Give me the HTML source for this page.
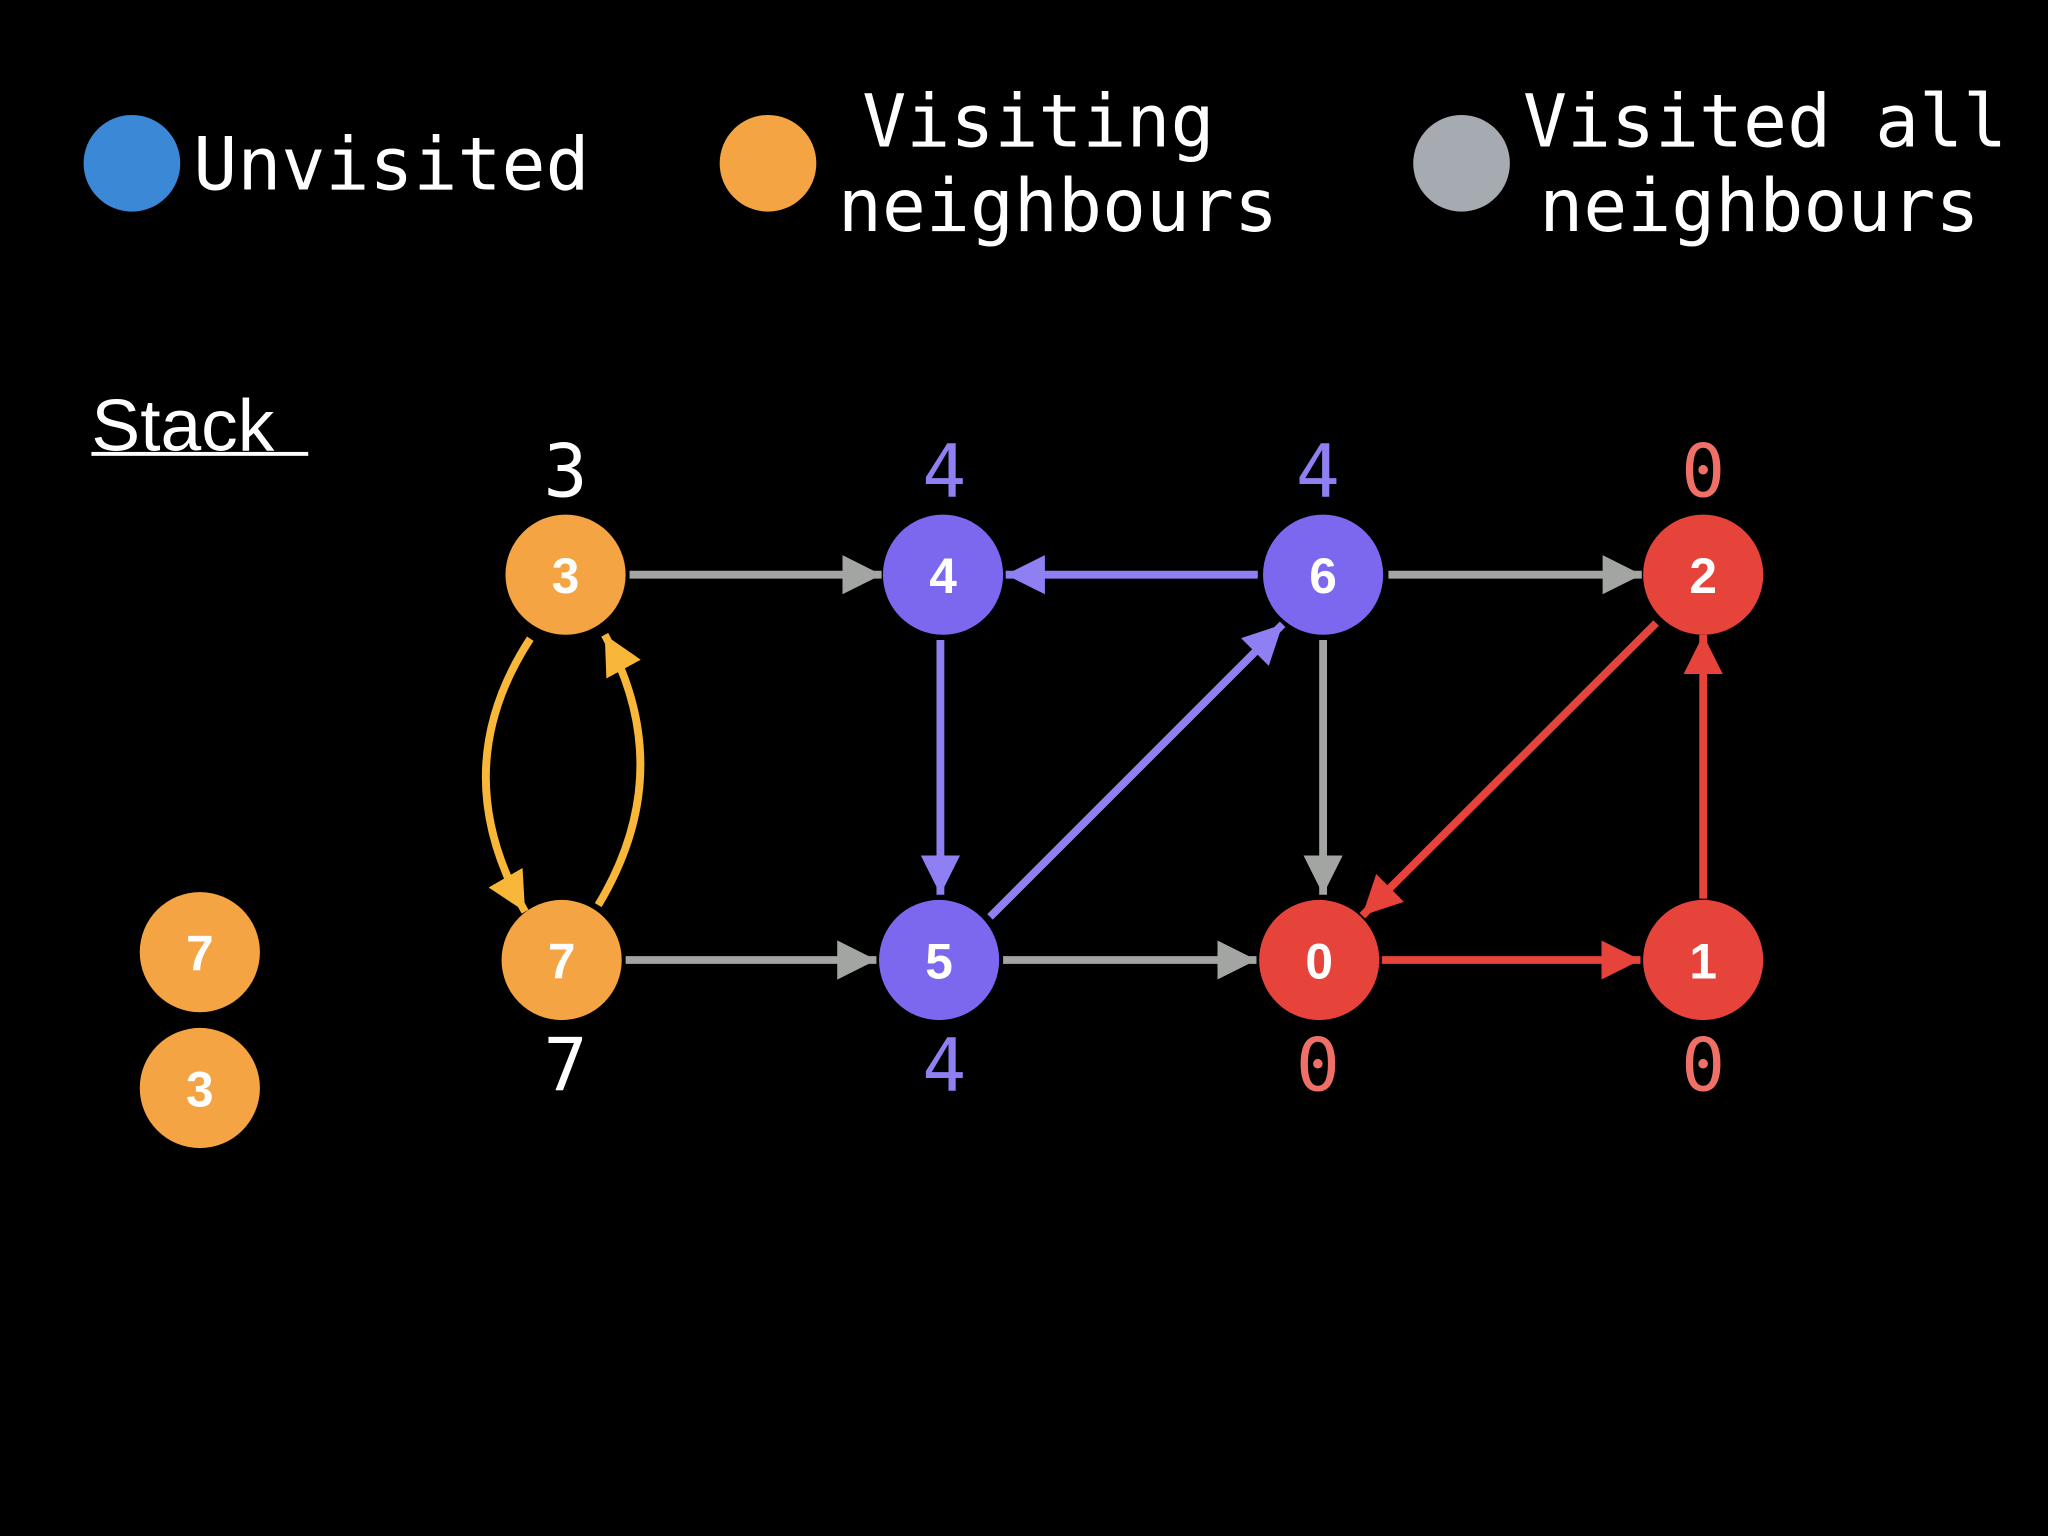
<!DOCTYPE html>
<html><head><meta charset="utf-8"><style>
html,body{margin:0;padding:0;background:#000;}
svg{display:block;}
</style></head><body>
<svg width="2048" height="1536" viewBox="0 0 1568 1176" xmlns="http://www.w3.org/2000/svg">
<defs>
<marker id="ag" markerUnits="userSpaceOnUse" markerWidth="32" markerHeight="32" refX="30" refY="15" orient="auto"><path d="M0,0 L30,15 L0,30 Z" fill="#a3a5a3"/></marker>
<marker id="ap" markerUnits="userSpaceOnUse" markerWidth="32" markerHeight="32" refX="30" refY="15" orient="auto"><path d="M0,0 L30,15 L0,30 Z" fill="#8e80f2"/></marker>
<marker id="ar" markerUnits="userSpaceOnUse" markerWidth="32" markerHeight="32" refX="30" refY="15" orient="auto"><path d="M0,0 L30,15 L0,30 Z" fill="#e6433a"/></marker>
<marker id="ay" markerUnits="userSpaceOnUse" markerWidth="32" markerHeight="32" refX="30" refY="15" orient="auto"><path d="M0,0 L30,15 L0,30 Z" fill="#f8b738"/></marker>
</defs>
<rect width="1568" height="1176" fill="#000"/>
<!-- legend -->
<circle cx="101" cy="125" r="37" fill="#3b88d6"/>
<circle cx="588" cy="125" r="37" fill="#f5a443"/>
<circle cx="1119" cy="125" r="37" fill="#a6aab1"/>
<g font-family="'DejaVu Sans Mono','Liberation Mono',monospace" font-size="56" fill="#fff">
<text x="148" y="145">Unvisited</text>
<text x="795" y="112" text-anchor="middle">Visiting</text>
<text x="810" y="177" text-anchor="middle">neighbours</text>
<text x="1166" y="112">Visited all</text>
<text x="1347" y="177" text-anchor="middle">neighbours</text>
</g>
<text x="70" y="345" font-family="'Liberation Sans',sans-serif" font-size="56" fill="#fff">Stack</text>
<rect x="70" y="346" width="166" height="3" fill="#fff"/>
<!-- edges -->
<g stroke-width="6" fill="none">
<line x1="482" y1="440" x2="675" y2="440" stroke="#a3a5a3" marker-end="url(#ag)"/>
<line x1="1063" y1="440" x2="1257" y2="440" stroke="#a3a5a3" marker-end="url(#ag)"/>
<line x1="479" y1="735" x2="671" y2="735" stroke="#a3a5a3" marker-end="url(#ag)"/>
<line x1="768" y1="735" x2="962" y2="735" stroke="#a3a5a3" marker-end="url(#ag)"/>
<line x1="1013" y1="490" x2="1013" y2="685" stroke="#a3a5a3" marker-end="url(#ag)"/>
<line x1="963" y1="440" x2="770" y2="440" stroke="#8e80f2" marker-end="url(#ap)"/>
<line x1="720" y1="490" x2="720" y2="685" stroke="#8e80f2" marker-end="url(#ap)"/>
<line x1="758" y1="702" x2="982" y2="478" stroke="#8e80f2" marker-end="url(#ap)"/>
<line x1="1268" y1="477" x2="1043" y2="701" stroke="#e6433a" marker-end="url(#ar)"/>
<line x1="1058" y1="735" x2="1256" y2="735" stroke="#e6433a" marker-end="url(#ar)"/>
<line x1="1304" y1="688" x2="1304" y2="486" stroke="#e6433a" marker-end="url(#ar)"/>
<path d="M406,489 Q340,590 402,698" stroke="#f8b738" marker-end="url(#ay)"/>
<path d="M458,693 Q520,590 463,486" stroke="#f8b738" marker-end="url(#ay)"/>
</g>
<!-- nodes -->
<g>
<circle cx="433" cy="440" r="46" fill="#f5a443"/>
<circle cx="722" cy="440" r="46" fill="#7b68ee"/>
<circle cx="1013" cy="440" r="46" fill="#7b68ee"/>
<circle cx="1304" cy="440" r="46" fill="#e6433a"/>
<circle cx="430" cy="735" r="46" fill="#f5a443"/>
<circle cx="719" cy="735" r="46" fill="#7b68ee"/>
<circle cx="1010" cy="735" r="46" fill="#e6433a"/>
<circle cx="1304" cy="735" r="46" fill="#e6433a"/>
<circle cx="153" cy="729" r="46" fill="#f5a443"/>
<circle cx="153" cy="833" r="46" fill="#f5a443"/>
</g>
<g font-family="'Liberation Sans',sans-serif" font-weight="bold" font-size="38" fill="#fff" text-anchor="middle">
<text x="433" y="454">3</text>
<text x="722" y="454">4</text>
<text x="1013" y="454">6</text>
<text x="1304" y="454">2</text>
<text x="430" y="749">7</text>
<text x="719" y="749">5</text>
<text x="1010" y="749">0</text>
<text x="1304" y="749">1</text>
<text x="153" y="743">7</text>
<text x="153" y="847">3</text>
</g>
<g font-family="'DejaVu Sans Mono','Liberation Mono',monospace" font-size="56" text-anchor="middle">
<text x="433" y="380" fill="#fff">3</text>
<text x="723" y="380" fill="#8e80f2">4</text>
<text x="1009" y="380" fill="#8e80f2">4</text>
<text x="1304" y="380" fill="#f07068">0</text>
<text x="433" y="835" fill="#fff">7</text>
<text x="723" y="835" fill="#8e80f2">4</text>
<text x="1009" y="835" fill="#f07068">0</text>
<text x="1304" y="835" fill="#f07068">0</text>
</g>
</svg>
</body></html>
